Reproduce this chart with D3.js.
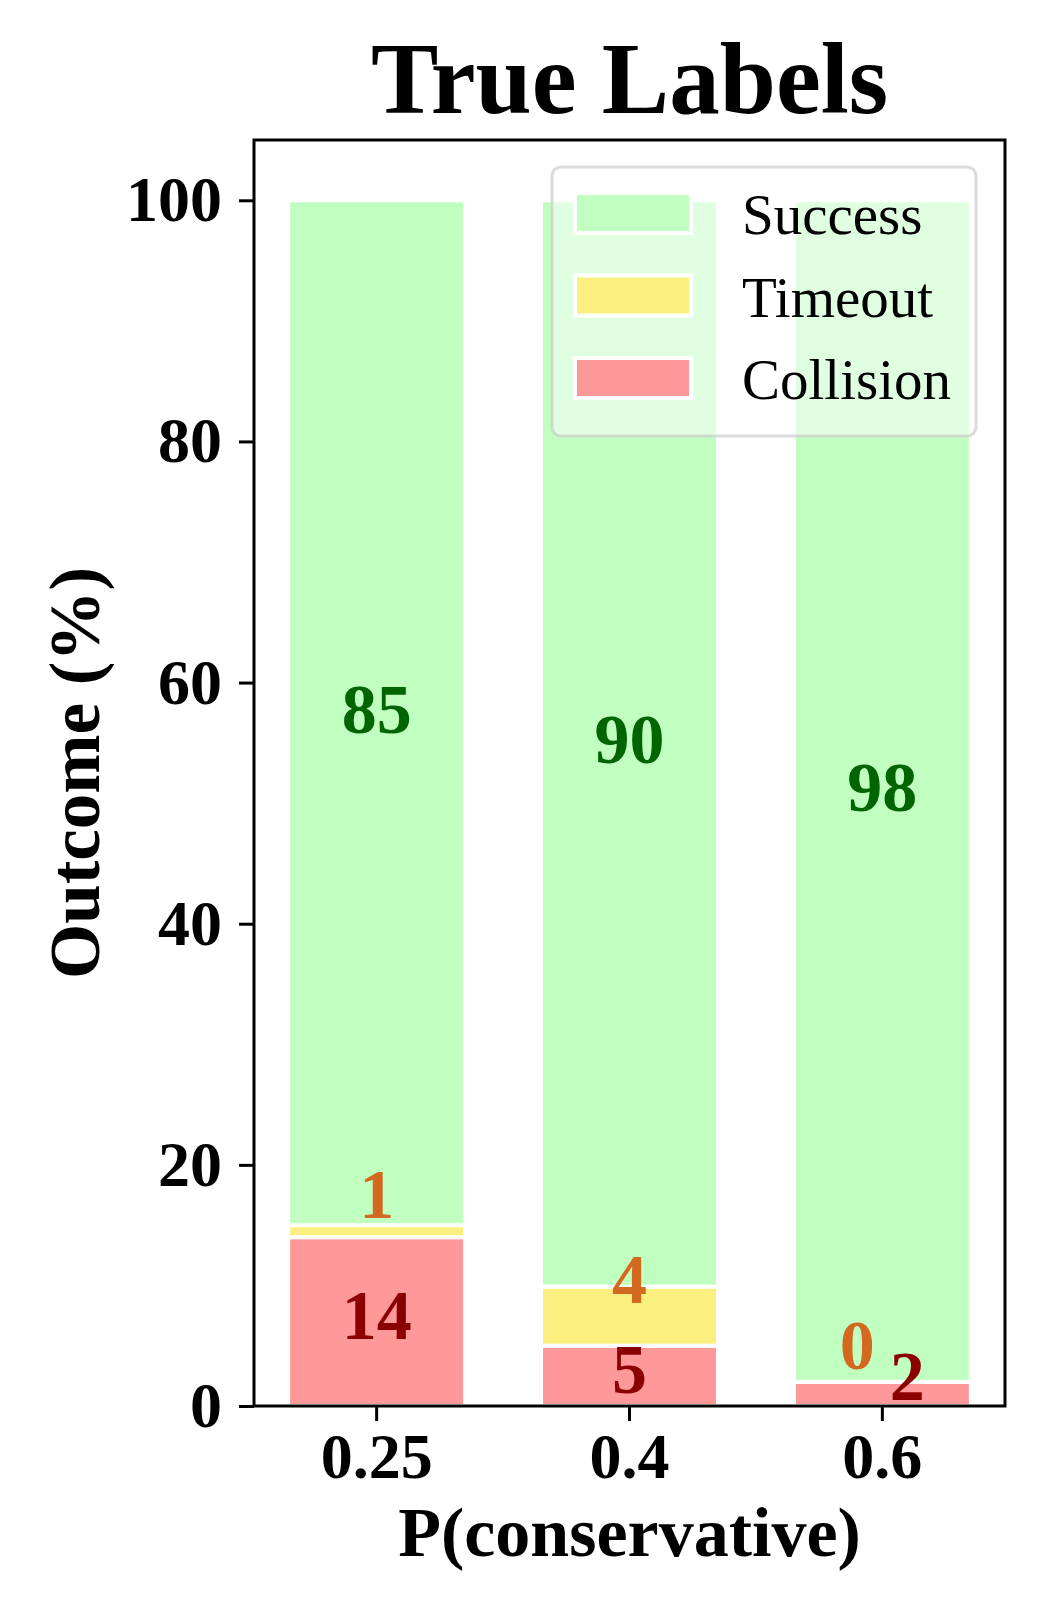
<!DOCTYPE html>
<html>
<head>
<meta charset="utf-8">
<script src="https://cdn.jsdelivr.net/npm/d3@7"></script>
<style>
  body { margin: 0; background: #fff; }
  svg text { font-family: "Times New Roman", "Liberation Serif", serif; }
</style>
</head>
<body>
<div id="chart"></div>
<script>
// data
const categories = ["0.25", "0.4", "0.6"];
const collision = [14, 5, 2];
const timeout = [1, 4.9, 0];
const success = [85, 90.1, 98];
const yTicks = [0, 20, 40, 60, 80, 100];
const seriesNames = ["Collision", "Timeout", "Success"];
const legendOrder = ["Success", "Timeout", "Collision"];

const fills = { Success: "#c1ffc1", Timeout: "#fbef80", Collision: "#ff9999" };
const textFills = { Success: "#006400", Timeout: "#d2691e", Collision: "#8b0000" };

const W = 1050, H = 1620;
const plotLeft = 254, plotRight = 1005, plotTop = 140, plotBottom = 1406;

let svg = d3.select("#chart").append("svg")
    .attr("width", W).attr("height", H);

// rows for the stack
let rows = categories.map((c, i) => ({
    cat: c, Collision: collision[i], Timeout: timeout[i], Success: success[i]
}));
let stacked = d3.stack().keys(seriesNames)(rows);

let x = d3.scaleBand().domain(categories).range([plotLeft, plotRight])
    .paddingInner(0.3).paddingOuter(0.135);
let y = d3.scaleLinear().domain([0, 105]).range([plotBottom, plotTop]);

// bars
svg.selectAll("g.series")
    .data(stacked)
    .enter()
    .append("g")
    .attr("class", "series")
    .attr("fill", d => fills[d.key])
    .selectAll("rect")
    .data(d => d)
    .enter()
    .append("rect")
    .attr("x", d => x(d.data.cat))
    .attr("width", x.bandwidth())
    .attr("y", d => y(d[1]))
    .attr("height", d => y(d[0]) - y(d[1]))
    .attr("stroke", "white")
    .attr("stroke-width", 4)

// value labels
stacked.forEach(s => {
    s.forEach(d => {
        let v = d[1] - d[0];
        let mid = y((d[0] + d[1]) / 2);
        let cx = x(d.data.cat) + x.bandwidth() / 2;
        let by = mid + 20, dx = 0;
        if (s.key == "Collision") {
            by = mid + 17;
            if (v < 3) { dx = 25; by = mid + 6; }
        }
        if (s.key == "Timeout") {
            by = mid - 13;
            if (v < 0.5) dx = -25;
        }
        svg.append("text")
            .attr("x", cx + dx)
            .attr("y", by)
            .attr("text-anchor", "middle")
            .attr("font-size", 70)
            .attr("font-weight", "bold")
            .attr("fill", textFills[s.key])
            .text(Math.floor(v + 1e-9));
    });
});

// axes
let yAxis = d3.axisLeft(y).tickValues(yTicks).tickSize(15).tickSizeOuter(0).tickPadding(17);
let xAxis = d3.axisBottom(x).tickSize(15).tickSizeOuter(0).tickPadding(12);

let gy = svg.append("g").attr("transform", `translate(${plotLeft},0)`).call(yAxis);
let gx = svg.append("g").attr("transform", `translate(0,${plotBottom})`).call(xAxis);

[gy, gx].forEach(g => {
    g.select(".domain").remove();
    g.selectAll(".tick line").attr("stroke", "black").attr("stroke-width", 3);
    g.selectAll(".tick text")
        .attr("font-size", 64)
        .attr("font-weight", "bold")
        .attr("fill", "black")
        .style("font-family", '"Times New Roman", "Liberation Serif", serif');
});

// frame
svg.append("rect")
    .attr("x", plotLeft).attr("y", plotTop)
    .attr("width", plotRight - plotLeft).attr("height", plotBottom - plotTop)
    .attr("fill", "none")
    .attr("stroke", "black")
    .attr("stroke-width", 3)

// legend
let lg = svg.append("g");
lg.append("rect")
    .attr("x", 552).attr("y", 167)
    .attr("width", 424).attr("height", 269)
    .attr("rx", 9)
    .attr("fill", "white").attr("fill-opacity", 0.5)
    .attr("stroke", "#cccccc").attr("stroke-opacity", 0.7)
    .attr("stroke-width", 3)

let items = lg.selectAll("g.item")
    .data(legendOrder)
    .enter()
    .append("g")
    .attr("class", "item")
    .attr("transform", (d, i) => `translate(575, ${193 + i * 82.5})`);

items.append("rect")
    .attr("width", 116).attr("height", 40)
    .attr("fill", d => fills[d])
    .attr("stroke", "white").attr("stroke-width", 4)

items.append("text")
    .attr("x", 167).attr("y", 41)
    .attr("font-size", 57)
    .attr("fill", "black")
    .text(d => d)

// titles
svg.append("text")
    .attr("x", (plotLeft + plotRight) / 2).attr("y", 113)
    .attr("text-anchor", "middle")
    .attr("font-size", 101).attr("font-weight", "bold")
    .text("True Labels")

svg.append("text")
    .attr("x", (plotLeft + plotRight) / 2).attr("y", 1556)
    .attr("text-anchor", "middle")
    .attr("font-size", 70).attr("font-weight", "bold")
    .text("P(conservative)")

svg.append("text")
    .attr("transform", `translate(99, ${(plotTop + plotBottom) / 2}) rotate(-90)`)
    .attr("text-anchor", "middle")
    .attr("font-size", 71).attr("font-weight", "bold")
    .text("Outcome (%)")
</script>
</body>
</html>
